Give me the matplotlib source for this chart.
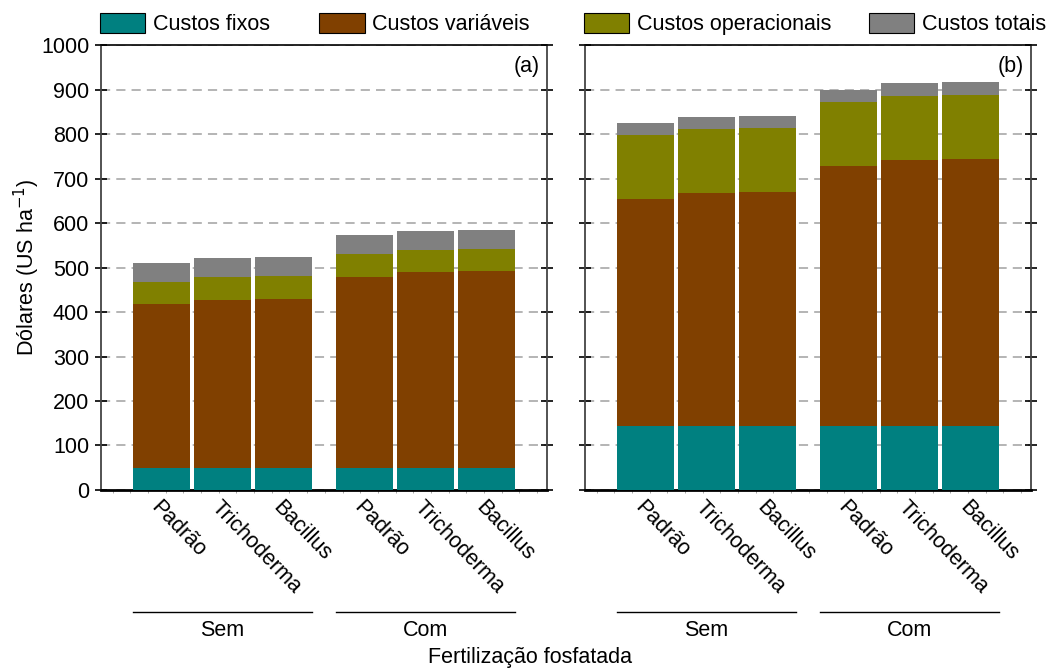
import numpy as np
import matplotlib.pyplot as plt
from matplotlib.patches import Patch
from matplotlib.lines import Line2D

plt.rcParams['font.family'] = ['Liberation Sans', 'DejaVu Sans']
plt.rcParams['font.size'] = 15

# dados (valores acumulados, US$ ha-1)
tratamentos = ['Padrão', 'Trichoderma', 'Bacillus'] * 2
grupos = ['Sem', 'Com']

fixos_a = [50, 50, 50, 50, 50, 50]
variaveis_a = [418, 427, 429, 479, 490, 492]
operacionais_a = [467, 479, 481, 530, 539, 542]
totais_a = [510, 521, 524, 573, 582, 585]

fixos_b = [144, 144, 144, 144, 144, 144]
variaveis_b = [654, 667, 669, 728, 742, 744]
operacionais_b = [797, 811, 813, 872, 885, 888]
totais_b = [825, 838, 840, 899, 915, 917]

cores = ['#008080', '#804000', '#808000', '#808080']
nomes = ['Custos fixos', 'Custos variáveis', 'Custos operacionais', 'Custos totais']

x = np.array([0, 1, 2, 3.33, 4.33, 5.33])
larg = 0.93
fs = 15.5

fig = plt.figure(figsize=(10.59, 6.68), dpi=100)
ax_a = fig.add_axes([0.0954, 0.2665, 0.421, 0.666])
ax_b = fig.add_axes([0.5524, 0.2665, 0.421, 0.666])


def painel(ax, fixos, variaveis, operacionais, totais, letra, rotulos_y):
    # barras sobrepostas: maior primeiro
    for serie, cor in zip([totais, operacionais, variaveis, fixos], cores[::-1]):
        ax.bar(x, serie, width=larg, color=cor, zorder=3)
    ax.set_xlim(-0.99, 6.32)
    ax.set_ylim(0, 1000)
    ax.set_yticks(np.arange(0, 1001, 100))
    ax.yaxis.grid(True, linestyle=(0, (6, 4)), color='#a0a0a0', linewidth=1.1, zorder=0)
    ax.tick_params(axis='y', direction='inout', length=9, width=1.2, right=True,
                   labelleft=rotulos_y, labelsize=fs, pad=4)
    ax.set_xticks(x)
    ax.set_xticklabels(tratamentos, rotation=-46, ha='left', va='top',
                       rotation_mode='anchor', fontsize=fs)
    ax.tick_params(axis='x', length=0, pad=5)
    ax.set_xticks(np.arange(-0.8, 6.3, 0.29), minor=True)
    ax.tick_params(axis='x', which='minor', length=2, color='#999999', direction='out')
    for s in ['left', 'right']:
        ax.spines[s].set_color('#444444')
        ax.spines[s].set_linewidth(1.3)
    ax.spines['bottom'].set_linewidth(2)
    ax.spines['top'].set_linewidth(1.2)
    ax.text(0.985, 0.975, letra, transform=ax.transAxes, ha='right', va='top', fontsize=fs)
    # linhas de grupo
    for i, g in enumerate(grupos):
        xs = x[3 * i:3 * i + 3]
        x0, x1 = xs[0] - larg / 2, xs[-1] + larg / 2
        ax.add_line(Line2D([x0, x1], [-0.275, -0.275], transform=ax.get_xaxis_transform(),
                           color='black', linewidth=1, clip_on=False))
        ax.text((x0 + x1) / 2, -0.293, g, transform=ax.get_xaxis_transform(),
                ha='center', va='top', fontsize=fs)


painel(ax_a, fixos_a, variaveis_a, operacionais_a, totais_a, '(a)', True)
painel(ax_b, fixos_b, variaveis_b, operacionais_b, totais_b, '(b)', False)

ax_a.set_ylabel('Dólares (US ha$^{-1}$)', fontsize=fs, labelpad=-1)
fig.text(0.5, 0.0, 'Fertilização fosfatada', ha='center', va='bottom', fontsize=fs)

h = [Patch(facecolor=c, edgecolor='black', linewidth=0.8) for c in cores]
leg_kw = dict(loc='lower left', frameon=False, ncol=2, handlelength=2.1, handleheight=1.05,
              handletextpad=0.35, borderpad=0, borderaxespad=0, fontsize=fs)
ax_a.legend(h[:2], nomes[:2], bbox_to_anchor=(-0.002, 1.022), columnspacing=2.3, **leg_kw)
ax_b.legend(h[2:], nomes[2:], bbox_to_anchor=(-0.002, 1.022), columnspacing=1.75, **leg_kw)

fig.savefig('out.png', dpi=100)
